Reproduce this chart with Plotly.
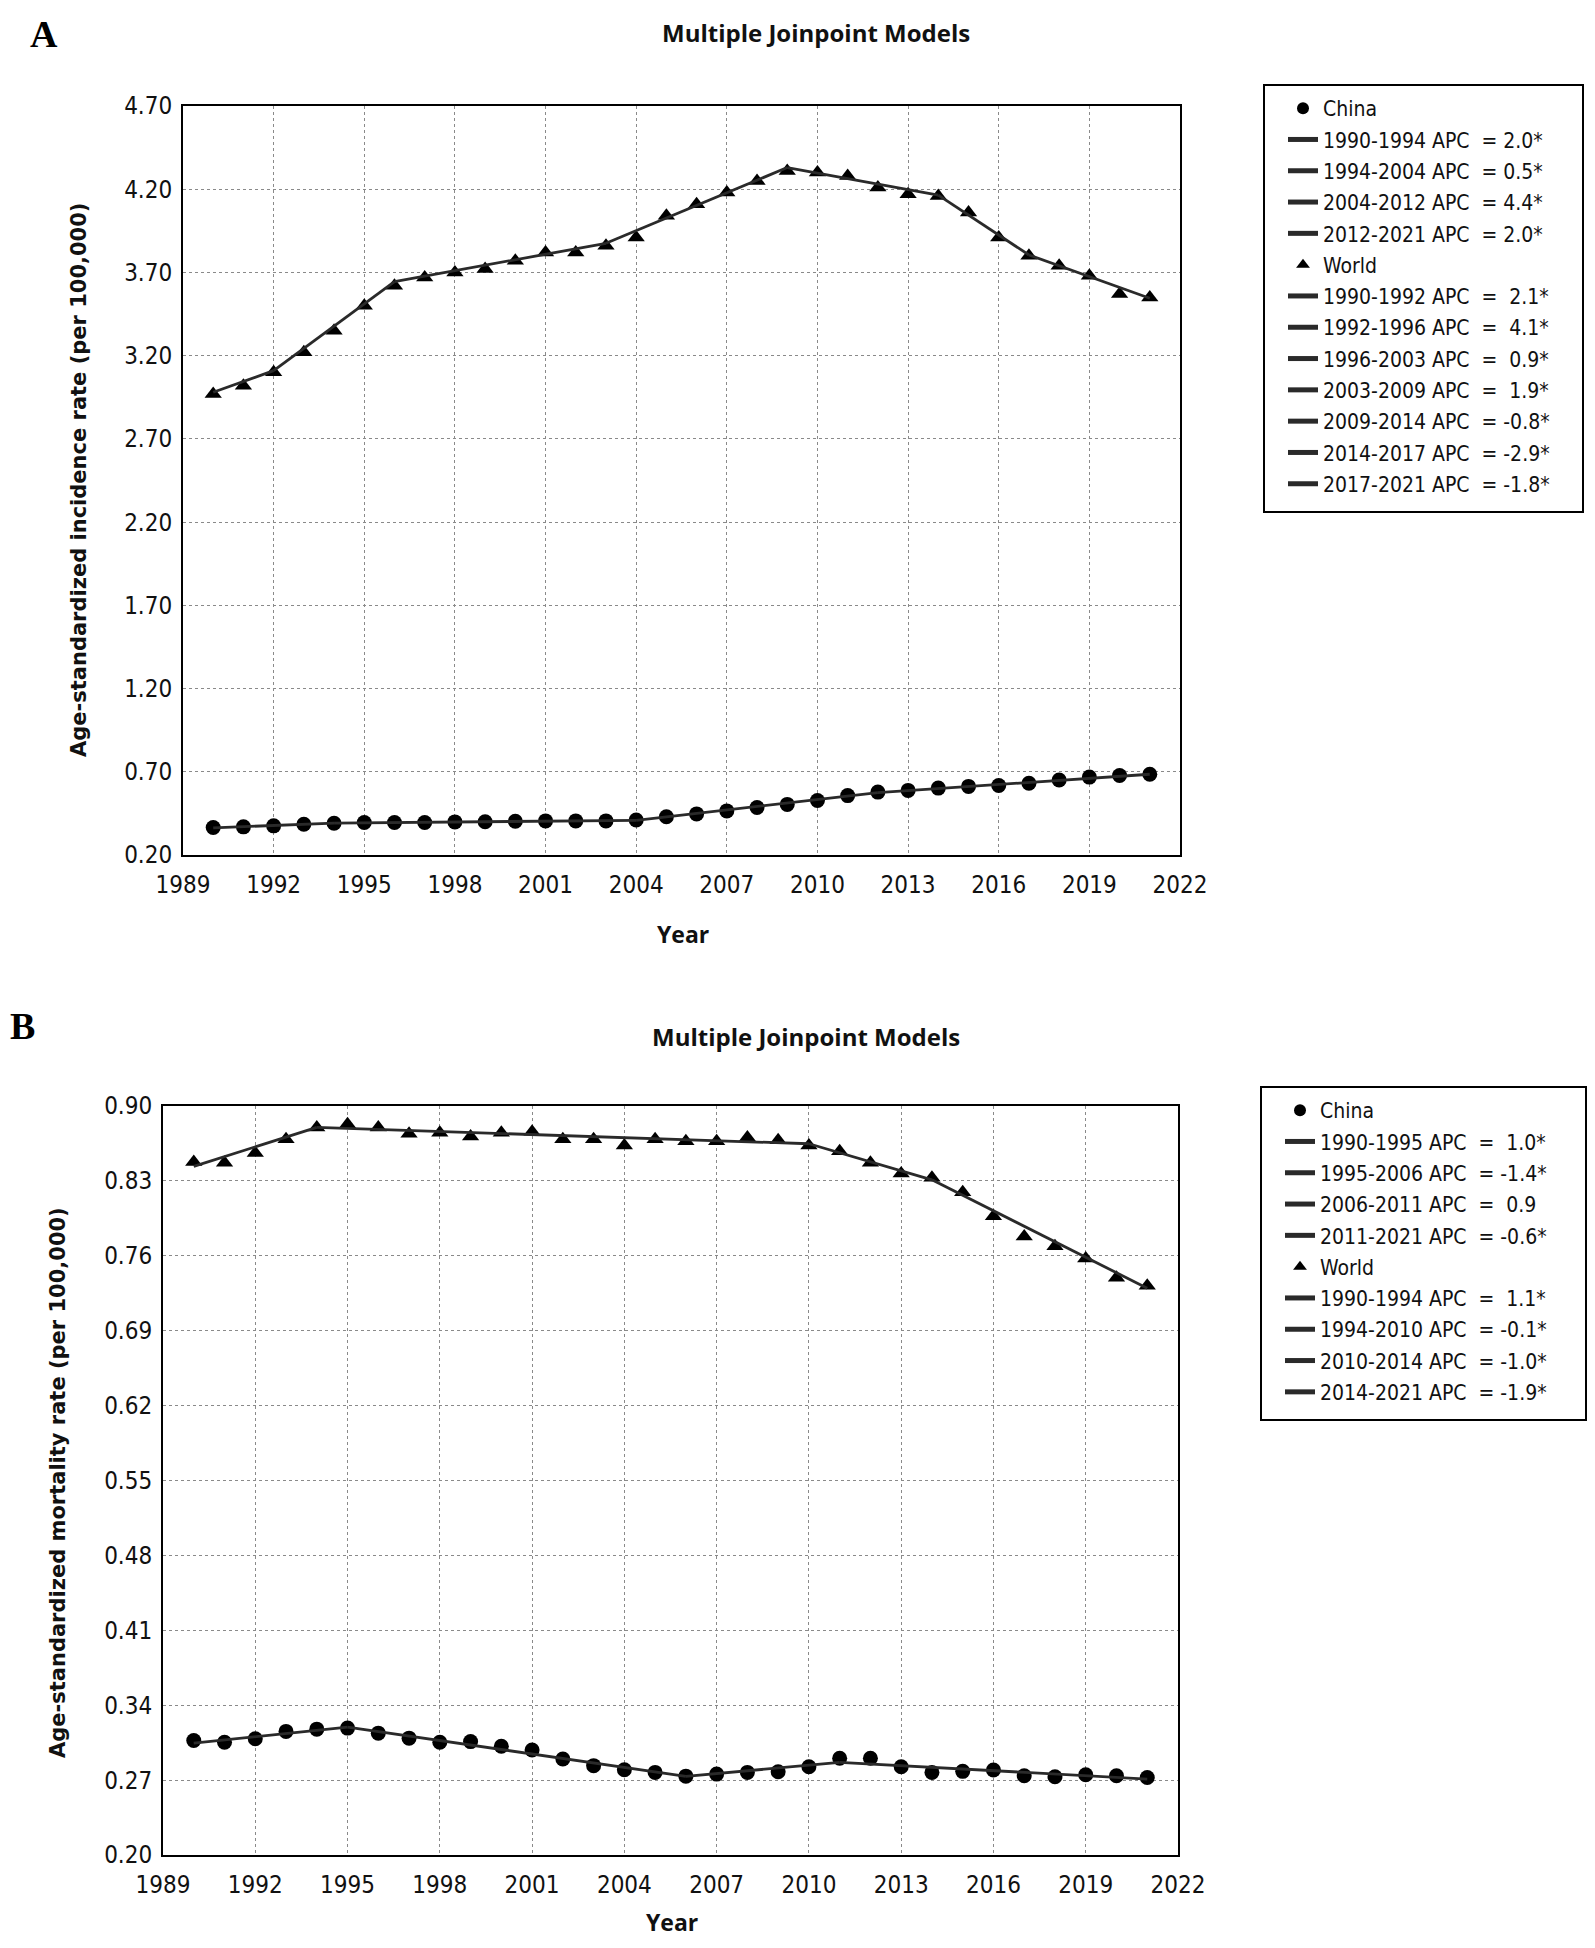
import plotly.graph_objects as go

# page is drawn with the default 8px body margin, so the figure is 16px smaller
OFF = 8
W, H = 1595 - 2 * OFF, 1948 - 2 * OFF

years = list(range(1990, 2022))

# Panel A: age-standardized incidence rate
china_inc = [0.365, 0.369, 0.375, 0.385, 0.391, 0.395, 0.395, 0.395, 0.399, 0.400,
             0.403, 0.405, 0.405, 0.405, 0.410, 0.430, 0.447, 0.465, 0.485, 0.504,
             0.527, 0.557, 0.578, 0.588, 0.602, 0.612, 0.618, 0.631, 0.651, 0.668,
             0.678, 0.685]
world_inc = [2.97, 3.02, 3.10, 3.22, 3.35, 3.50, 3.62, 3.67, 3.70, 3.72,
             3.77, 3.82, 3.82, 3.86, 3.91, 4.04, 4.11, 4.18, 4.25, 4.31,
             4.30, 4.28, 4.21, 4.17, 4.16, 4.06, 3.91, 3.80, 3.74, 3.68,
             3.57, 3.55]
china_inc_jp = [1990, 1994, 2004, 2012, 2021]
china_inc_fit = [0.363, 0.392, 0.408, 0.575, 0.685]
china_inc_labels = ["1990-1994 APC  = 2.0*", "1994-2004 APC  = 0.5*",
                    "2004-2012 APC  = 4.4*", "2012-2021 APC  = 2.0*"]
world_inc_jp = [1990, 1992, 1996, 2003, 2009, 2014, 2017, 2021]
world_inc_fit = [2.98, 3.11, 3.645, 3.875, 4.33, 4.165, 3.805, 3.545]
world_inc_labels = ["1990-1992 APC  =  2.1*", "1992-1996 APC  =  4.1*",
                    "1996-2003 APC  =  0.9*", "2003-2009 APC  =  1.9*",
                    "2009-2014 APC  = -0.8*", "2014-2017 APC  = -2.9*",
                    "2017-2021 APC  = -1.8*"]

# Panel B: age-standardized mortality rate
china_mor = [0.3070, 0.3054, 0.3086, 0.3155, 0.3176, 0.3186, 0.3139, 0.3092, 0.3054, 0.3060,
             0.3017, 0.2982, 0.2897, 0.2835, 0.2797, 0.2772, 0.2737, 0.2756, 0.2772, 0.2778,
             0.2825, 0.2904, 0.2904, 0.2825, 0.2772, 0.2782, 0.2794, 0.2741, 0.2731, 0.2750,
             0.2740, 0.2725]
world_mor = [0.8477, 0.8470, 0.8560, 0.8690, 0.8800, 0.8830, 0.8800, 0.8740, 0.8750, 0.8715,
             0.8750, 0.8760, 0.8690, 0.8690, 0.8630, 0.8690, 0.8670, 0.8670, 0.8706, 0.8680,
             0.8630, 0.8576, 0.8470, 0.8370, 0.8330, 0.8195, 0.7970, 0.7780, 0.7690, 0.7575,
             0.7395, 0.7320]
china_mor_jp = [1990, 1995, 2006, 2011, 2021]
china_mor_fit = [0.3045, 0.3195, 0.2735, 0.2866, 0.2710]
china_mor_labels = ["1990-1995 APC  =  1.0*", "1995-2006 APC  = -1.4*",
                    "2006-2011 APC  =  0.9", "2011-2021 APC  = -0.6*"]
world_mor_jp = [1990, 1994, 2010, 2014, 2021]
world_mor_fit = [0.8436, 0.8800, 0.8647, 0.8310, 0.7297]
world_mor_labels = ["1990-1994 APC  =  1.1*", "1994-2010 APC  = -0.1*",
                    "2010-2014 APC  = -1.0*", "2014-2021 APC  = -1.9*"]

x_ticks = [1989, 1992, 1995, 1998, 2001, 2004, 2007, 2010, 2013, 2016, 2019, 2022]
yA_ticks = [0.20, 0.70, 1.20, 1.70, 2.20, 2.70, 3.20, 3.70, 4.20, 4.70]
yB_ticks = [0.20, 0.27, 0.34, 0.41, 0.48, 0.55, 0.62, 0.69, 0.76, 0.83, 0.90]

TICK_FONT = "Liberation Sans Narrow, DejaVu Sans Condensed, Arial Narrow, Liberation Sans, sans-serif"
BOLD_FONT = "Open Sans, Liberation Sans, sans-serif"
YT_FONT = "DejaVu Sans, Verdana, sans-serif"
LINE_COL = "#2a2a2a"


def px(x):
    return (x - OFF) / W


def py(y):
    return 1 - (y - OFF) / H


fig = go.Figure()
_gid = [0]


def add_series(xa, ya, legend, name, symbol, obs, jp, fit, labels):
    _gid[0] += 1
    fig.add_trace(go.Scatter(
        x=years, y=obs, mode="markers", name=name, legend=legend,
        legendgroup=f"g{_gid[0]}_0",
        xaxis=xa, yaxis=ya,
        marker=dict(symbol=symbol, size=15, color="black"),
    ))
    for i, lab in enumerate(labels):
        fig.add_trace(go.Scatter(
            x=jp[i:i + 2], y=fit[i:i + 2], mode="lines", name=lab, legend=legend,
            legendgroup=f"g{_gid[0]}_{i + 1}",
            xaxis=xa, yaxis=ya,
            line=dict(color=LINE_COL, width=2.8),
        ))


add_series("x", "y", "legend", "China", "circle", china_inc, china_inc_jp, china_inc_fit, china_inc_labels)
add_series("x", "y", "legend", "World", "triangle-up", world_inc, world_inc_jp, world_inc_fit, world_inc_labels)
add_series("x2", "y2", "legend2", "China", "circle", china_mor, china_mor_jp, china_mor_fit, china_mor_labels)
add_series("x2", "y2", "legend2", "World", "triangle-up", world_mor, world_mor_jp, world_mor_fit, world_mor_labels)

axis_common = dict(
    showline=True, linecolor="black", linewidth=2, mirror=True,
    showgrid=True, gridcolor="#8a8a8a", griddash="dot", gridwidth=1,
    zeroline=False, ticks="", automargin=False,
    tickfont=dict(family=TICK_FONT, size=24, color="#111"),
)

legend_common = dict(
    xanchor="left", yanchor="top", bgcolor="rgba(0,0,0,0)", borderwidth=0,
    traceorder="grouped", tracegroupgap=1, itemsizing="constant",
    font=dict(family=TICK_FONT, size=21, color="#111"),
)

fig.update_layout(
    template="none",
    width=W, height=H, autosize=False,
    margin=dict(l=0, r=0, t=0, b=0, pad=0, autoexpand=False),
    paper_bgcolor="white", plot_bgcolor="white",
    showlegend=True,
    xaxis=dict(domain=[px(183), px(1180)], anchor="y", range=[1989, 2022],
               tickvals=x_ticks, ticktext=[str(v) for v in x_ticks], ticklabelstandoff=7, **axis_common),
    yaxis=dict(domain=[py(855), py(106)], anchor="x", range=[0.20, 4.70],
               tickvals=yA_ticks, tickformat=".2f", ticklabelstandoff=4, **axis_common),
    xaxis2=dict(domain=[px(163), px(1178)], anchor="y2", range=[1989, 2022],
                tickvals=x_ticks, ticktext=[str(v) for v in x_ticks], ticklabelstandoff=7, **axis_common),
    yaxis2=dict(domain=[py(1855), py(1106)], anchor="x2", range=[0.20, 0.90],
                tickvals=yB_ticks, tickformat=".2f", ticklabelstandoff=4, **axis_common),
    legend=dict(x=px(1283), y=py(88), **legend_common),
    legend2=dict(x=px(1280), y=py(1090), **legend_common),
)

# legend frames
fig.add_shape(type="rect", xref="paper", yref="paper",
              x0=px(1264), x1=px(1583), y0=py(512), y1=py(85),
              line=dict(color="black", width=2), fillcolor="rgba(0,0,0,0)", layer="below")
fig.add_shape(type="rect", xref="paper", yref="paper",
              x0=px(1261), x1=px(1586), y0=py(1420), y1=py(1087),
              line=dict(color="black", width=2), fillcolor="rgba(0,0,0,0)", layer="below")

ann = []
ann.append(dict(text="<b>A</b>", x=px(44), y=py(34), font=dict(family="Liberation Serif, serif", size=38, color="black")))
ann.append(dict(text="<b>B</b>", x=px(22), y=py(1026), font=dict(family="Liberation Serif, serif", size=38, color="black")))
ann.append(dict(text="<b>Multiple Joinpoint Models</b>", x=px(816), y=py(33), font=dict(family=BOLD_FONT, size=24, color="#111")))
ann.append(dict(text="<b>Multiple Joinpoint Models</b>", x=px(806), y=py(1036), font=dict(family=BOLD_FONT, size=24, color="#111")))
ann.append(dict(text="<b>Year</b>", x=px(683), y=py(934), font=dict(family=BOLD_FONT, size=23, color="#111")))
ann.append(dict(text="<b>Year</b>", x=px(672), y=py(1922), font=dict(family=BOLD_FONT, size=23, color="#111")))
ann.append(dict(text="<b>Age-standardized incidence rate (per 100,000)</b>", x=px(79), y=py(480),
                textangle=-90, font=dict(family=YT_FONT, size=21, color="#111")))
ann.append(dict(text="<b>Age-standardized mortality rate (per 100,000)</b>", x=px(58), y=py(1483),
                textangle=-90, font=dict(family=YT_FONT, size=21, color="#111")))
for a in ann:
    a.update(xref="paper", yref="paper", xanchor="center", yanchor="middle", showarrow=False)
fig.update_layout(annotations=ann)

fig.write_html("out.html")
